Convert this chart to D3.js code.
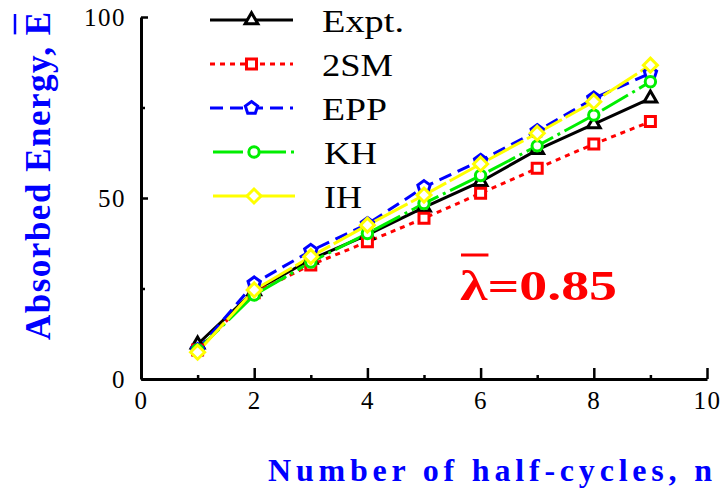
<!DOCTYPE html>
<html>
<head>
<meta charset="utf-8">
<script src="https://cdn.jsdelivr.net/npm/d3@7"></script>
<style>
  html, body { margin: 0; padding: 0; background: #fff; }
  svg { display: block; }
</style>
</head>
<body>
<svg id="chart" width="722" height="493"></svg>
<script>
// Half-cycle index
const halfCycles = [1, 2, 3, 4, 5, 6, 7, 8, 9];

// Absorbed energy per model
const expt  = [9.6, 24.3, 33.0, 39.8, 47.4, 54.5, 63.3, 70.4, 77.5];
const sm2   = [8.0, 23.8, 31.5, 37.9, 44.4, 51.3, 58.2, 64.9, 71.1];
const epp   = [8.0, 26.4, 35.4, 42.8, 53.0, 60.3, 68.5, 77.5, 84.5];
const kh    = [8.0, 23.2, 32.3, 40.2, 48.5, 56.2, 64.4, 72.9, 82.1];
const ih    = [7.4, 24.6, 33.8, 42.5, 50.8, 59.4, 67.9, 76.6, 86.7];

const seriesNames = ["Expt.", "2SM", "EPP", "KH", "IH"];

const xMajorTicks = [0, 2, 4, 6, 8, 10];
const xMinorTicks = [1, 3, 5, 7, 9];
const yMajorTicks = [0, 50, 100];
const yMinorTicks = [25, 75];

const xTitle = "Number of half-cycles, n";
const yTitle = "Absorbed Energy, E";
const lambdaLabel = "\u03BB=0.85";

// ---- drawing ----
const svg = d3.select("#chart");
const serif = "'Liberation Serif', 'Times New Roman', serif";

const x = d3.scaleLinear().domain([0, 10]).range([141, 707]);
const y = d3.scaleLinear().domain([0, 100]).range([379, 17]);

// custom marker shapes
const pentagon = {
  draw(ctx, size) {
    const r = Math.sqrt(size);
    for (let i = 0; i < 5; i++) {
      const a = -Math.PI / 2 + i * 2 * Math.PI / 5;
      const px = r * Math.cos(a), py = r * Math.sin(a);
      if (i === 0) ctx.moveTo(px, py); else ctx.lineTo(px, py);
    }
    ctx.closePath();
  }
};
const squareDiamond = {
  draw(ctx, size) {
    const r = Math.sqrt(size);
    ctx.moveTo(0, -r); ctx.lineTo(r, 0); ctx.lineTo(0, r); ctx.lineTo(-r, 0);
    ctx.closePath();
  }
};

const styles = [
  { values: expt, color: "#000000", dash: null,          symbol: d3.symbolTriangle, size: 70 },
  { values: sm2,  color: "#ff0000", dash: "5,5",         symbol: d3.symbolSquare,   size: 100 },
  { values: epp,  color: "#0000ff", dash: "13,7",        symbol: pentagon,          size: 42 },
  { values: kh,   color: "#00ee00", dash: "30,5,3,5",    symbol: d3.symbolCircle,   size: 85 },
  { values: ih,   color: "#ffff00", dash: "40,4",        symbol: squareDiamond,     size: 49 }
];

// axes
const axisG = svg.append("g");

const xMajor = d3.axisBottom(x).tickValues(xMajorTicks).tickSizeInner(-11).tickSizeOuter(0).tickPadding(12).tickFormat(d3.format("d"));
const xMinor = d3.axisBottom(x).tickValues(xMinorTicks).tickSizeInner(-4).tickSizeOuter(0).tickFormat("");
const yMajor = d3.axisLeft(y).tickValues(yMajorTicks).tickSizeInner(-7).tickSizeOuter(0).tickPadding(15).tickFormat(d3.format("d"));
const yMinor = d3.axisLeft(y).tickValues(yMinorTicks).tickSizeInner(-4).tickSizeOuter(0).tickFormat("");

function styleAxis(g) {
  g.select(".domain").attr("stroke", "#000").attr("stroke-width", 3);
  g.selectAll(".tick line").attr("stroke", "#000").attr("stroke-width", 2.5);
  g.selectAll(".tick text")
    .attr("fill", "#000")
    .style("font-family", serif)
    .style("font-size", "25px")
    .style("letter-spacing", "1.5px");
}

axisG.append("g").attr("transform", `translate(0,${y(0)})`).call(xMinor).call(styleAxis).select(".domain").remove();
axisG.append("g").attr("transform", `translate(${x(0)},0)`).call(yMinor).call(styleAxis).select(".domain").remove();
axisG.append("g").attr("transform", `translate(0,${y(0)})`).call(xMajor).call(styleAxis);
axisG.append("g").attr("transform", `translate(${x(0)},0)`).call(yMajor).call(styleAxis);

// series lines
const line = d3.line().x((d, i) => x(halfCycles[i])).y(d => y(d));
const plotG = svg.append("g");

styles.forEach(s => {
  plotG.append("path")
    .datum(s.values)
    .attr("d", line)
    .attr("fill", "none")
    .attr("stroke", s.color)
    .attr("stroke-width", 3)
    .attr("stroke-dasharray", s.dash);
});
styles.forEach(s => {
  plotG.selectAll(null)
    .data(s.values)
    .join("path")
    .attr("transform", (d, i) => `translate(${x(halfCycles[i])},${y(d)})`)
    .attr("d", d3.symbol(s.symbol, s.size))
    .attr("fill", "#fff")
    .attr("stroke", s.color)
    .attr("stroke-width", 3);
});

// legend
const legendWidths = [82, 71, 65, 53, 38];
const legendG = svg.append("g");
styles.forEach((s, i) => {
  const ly = 20 + i * 44;
  const x0 = i < 3 ? 210 : 213, x1 = i < 3 ? 293 : 295;
  legendG.append("line")
    .attr("x1", x0).attr("x2", x1).attr("y1", ly).attr("y2", ly)
    .attr("stroke", s.color).attr("stroke-width", 3)
    .attr("stroke-dasharray", s.dash);
  legendG.append("path")
    .attr("transform", `translate(${(x0 + x1) / 2},${ly})`)
    .attr("d", d3.symbol(s.symbol, s.size))
    .attr("fill", "#fff").attr("stroke", s.color).attr("stroke-width", 3);
  legendG.append("text")
    .attr("x", i < 3 ? 322 : 324).attr("y", ly + 12)
    .attr("textLength", legendWidths[i]).attr("lengthAdjust", "spacingAndGlyphs")
    .style("font-family", serif).style("font-size", "32px")
    .attr("fill", "#000")
    .text(seriesNames[i]);
});

// axis titles
svg.append("text")
  .attr("x", 268).attr("y", 481)
  .attr("textLength", 444).attr("lengthAdjust", "spacing")
  .style("font-family", serif).style("font-size", "32px").style("font-weight", "bold")
  .attr("fill", "#0000ff")
  .text(xTitle);

const yTitleG = svg.append("g").attr("transform", "translate(50,340) rotate(-90)");
const yTitleText = yTitleG.append("text")
  .attr("x", 0).attr("y", 0)
  .attr("textLength", 328).attr("lengthAdjust", "spacing")
  .style("font-family", serif).style("font-size", "35px").style("font-weight", "bold")
  .attr("fill", "#0000ff")
  .text(yTitle);
{
  const node = yTitleText.node();
  const n = yTitle.length - 1;
  const s = node.getStartPositionOfChar(n).x, e = node.getEndPositionOfChar(n).x;
  yTitleG.append("line")
    .attr("x1", s + 1).attr("x2", e - 2).attr("y1", -35).attr("y2", -35)
    .attr("stroke", "#0000ff").attr("stroke-width", 2.5);
}

// lambda annotation
const lamText = svg.append("text")
  .attr("x", 460).attr("y", 300)
  .attr("textLength", 157).attr("lengthAdjust", "spacingAndGlyphs")
  .style("font-family", serif).style("font-size", "42px").style("font-weight", "bold")
  .attr("fill", "#ff0000")
  .text(lambdaLabel);
{
  const node = lamText.node();
  const s = node.getStartPositionOfChar(0).x, e = node.getEndPositionOfChar(0).x;
  svg.append("line")
    .attr("x1", s + 1).attr("x2", e + 1).attr("y1", 255).attr("y2", 255)
    .attr("stroke", "#ff0000").attr("stroke-width", 3);
}
</script>
</body>
</html>
